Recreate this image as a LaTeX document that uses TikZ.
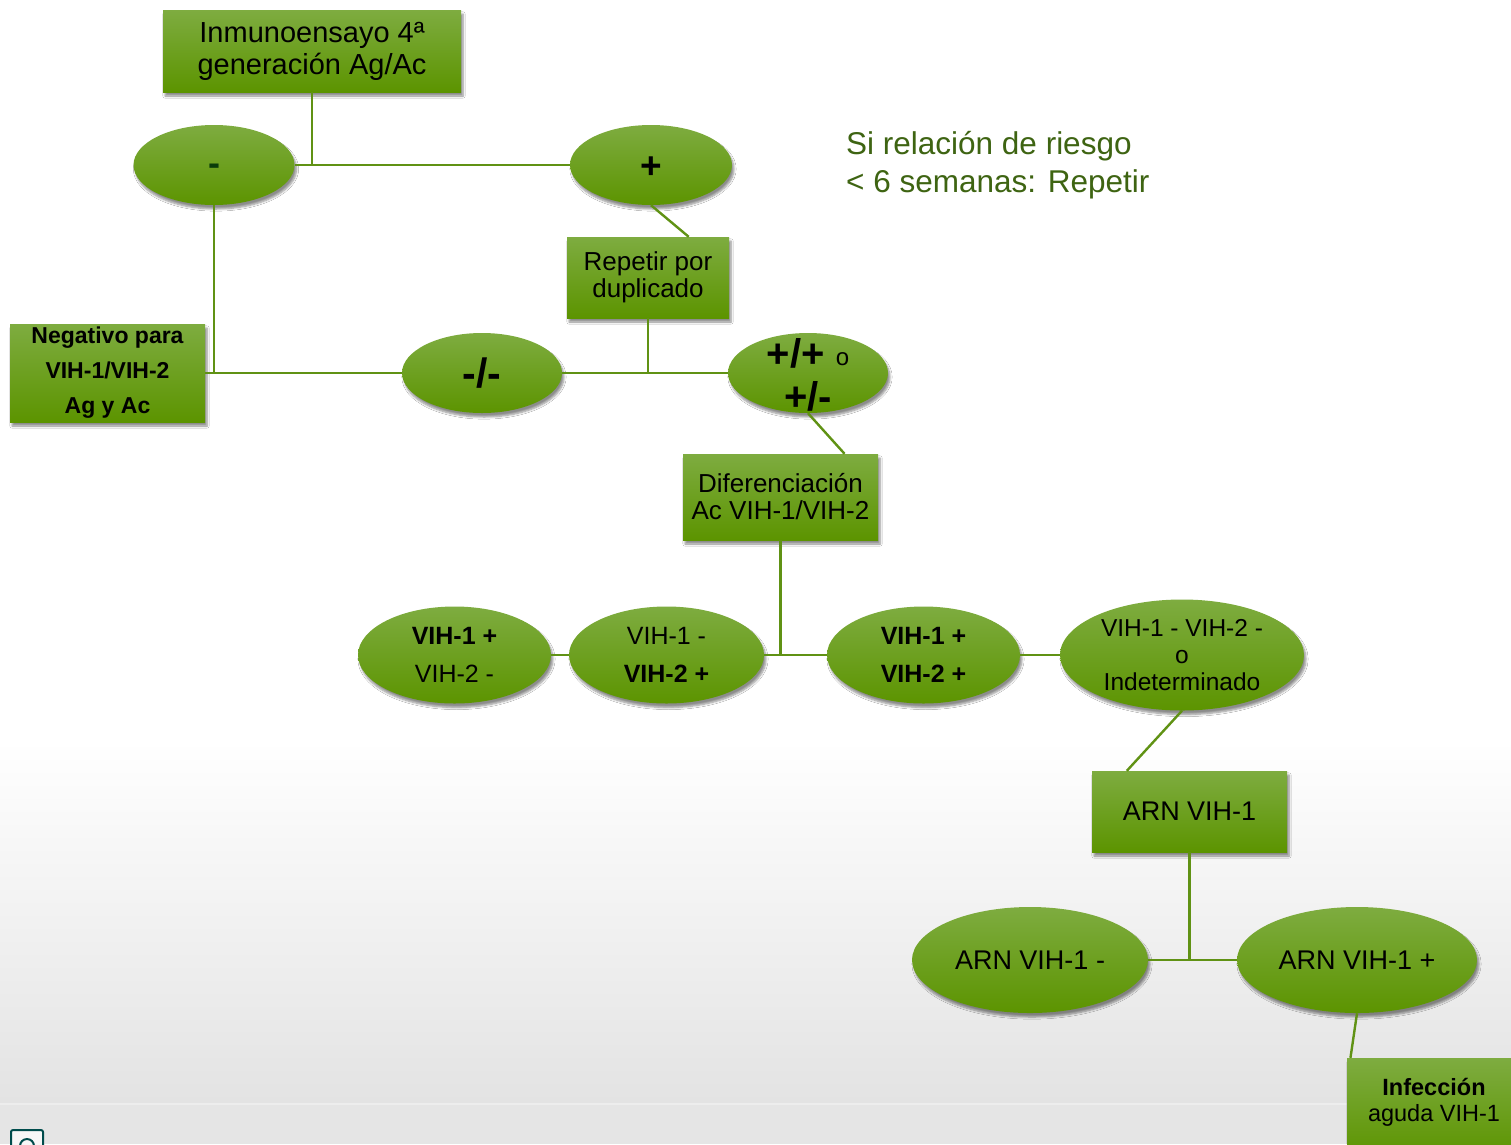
\documentclass[tikz,border=0pt]{standalone}
\usepackage{fontspec}
\setmainfont{Liberation Sans}
\usetikzlibrary{shapes.geometric,shadows.blur}
\definecolor{gtop}{RGB}{126,172,64}
\definecolor{gmid}{RGB}{104,160,10}
\definecolor{gbot}{RGB}{92,148,0}
\definecolor{lnkc}{RGB}{96,146,20}
\definecolor{riesgo}{RGB}{62,100,18}
\definecolor{guion}{RGB}{10,60,10}

\begin{document}
\begin{tikzpicture}[x=1pt, y=-1pt,
    shad/.style={blur shadow={shadow blur steps=6, shadow xshift=2pt, shadow yshift=-4pt, shadow opacity=45}},
    caja/.style={rectangle, shad, top color=gtop, middle color=gmid, bottom color=gbot, inner sep=0pt, align=center, text=black},
    elip/.style={ellipse, shad, top color=gtop, middle color=gmid, bottom color=gbot, inner sep=0pt, align=center, text=black},
    lnk/.style={draw=lnkc, line width=2.4pt}]
      \useasboundingbox (0,0) rectangle (1511,1144);
      \clip (0,0) rectangle (1511,1144);
      \fill[white] (0,0) rectangle (1511,1144);
      \shade[top color=white, bottom color=black!11] (0,740) rectangle (1511,1104);
      \fill[black!10] (0,1104) rectangle (1511,1144);
      \draw[black!7, line width=2pt] (0,1104) -- (1511,1104);
      \draw[teal!60!black, fill=black!3, line width=2pt, rounded corners=2pt] (11,1130) rectangle (43,1152);
      \draw[teal!60!black, line width=2pt] (27,1146) circle (7);

      \node[caja, minimum width=298pt, minimum height=82pt, font=\fontsize{29}{32}\selectfont] (inmuno) at (312,51) {Inmunoensayo 4ª\\generación Ag/Ac};
      \node[elip, minimum width=161pt, minimum height=80pt, font=\fontsize{36}{36}\selectfont\bfseries, text=guion] (menos) at (214,165) {\smash{\raisebox{-10pt}{-}}};
      \node[elip, minimum width=162pt, minimum height=80pt, font=\fontsize{37}{37}\selectfont\bfseries] (mas) at (651,165) {\smash{\raisebox{-13pt}{+}}};
      \node[anchor=west, inner sep=0pt, align=left, text=riesgo, font=\fontsize{31.5}{38}\selectfont] (nota) at (846,165) {Si relación de riesgo\\< 6 semanas: Repetir};
      \node[caja, minimum width=162pt, minimum height=81pt, font=\fontsize{26}{27}\selectfont] (repetir) at (648,277.5) {Repetir por\\duplicado};
      \node[caja, minimum width=195pt, minimum height=98pt, font=\fontsize{23}{35}\selectfont\bfseries] (negativo) at (107.5,373) {Negativo para\\VIH-1/VIH-2\\Ag y Ac};
      \node[elip, minimum width=160pt, minimum height=80pt, font=\fontsize{41}{41}\selectfont\bfseries] (negdos) at (482,373) {-/-};
      \node[elip, minimum width=160pt, minimum height=80pt] (ppos) at (808,373) {};
      \node[align=center, inner sep=0pt, font=\fontsize{40}{43}\selectfont\bfseries] (ppostxt) at (808,375) {+/+ {\mdseries\fontsize{24}{24}\selectfont\raisebox{2pt}{o}}\\+/-};
      \node[caja, minimum width=195pt, minimum height=86pt, font=\fontsize{26}{27}\selectfont] (dif) at (780.5,497) {Diferenciación\\Ac VIH-1/VIH-2};
      \node[elip, minimum width=193pt, minimum height=97pt, font=\fontsize{25}{38}\selectfont] (va1) at (454.5,655) {\textbf{VIH-1 +}\\VIH-2 -};
      \node[elip, minimum width=195pt, minimum height=97pt, font=\fontsize{25}{38}\selectfont] (va2) at (666.5,655) {VIH-1 -\\\textbf{VIH-2 +}};
      \node[elip, minimum width=193pt, minimum height=97pt, font=\fontsize{25}{38}\selectfont\bfseries] (vb) at (923.5,655) {VIH-1 +\\VIH-2 +};
      \node[elip, minimum width=244pt, minimum height=111pt, font=\fontsize{24.5}{27}\selectfont] (vc) at (1182,655) {VIH-1 - VIH-2 -\\o\\Indeterminado};
      \node[caja, minimum width=195pt, minimum height=81pt, font=\fontsize{27}{27}\selectfont] (arn) at (1189.5,811.5) {ARN VIH-1};
      \node[elip, minimum width=236pt, minimum height=106pt, font=\fontsize{27}{27}\selectfont] (arnneg) at (1030,960) {ARN VIH-1 -};
      \node[elip, minimum width=240pt, minimum height=106pt, font=\fontsize{27}{27}\selectfont] (arnpos) at (1357,960) {ARN VIH-1 +};
      \node[caja, minimum width=174pt, minimum height=100pt, text depth=0pt] (inf) at (1434,1108) {};
      \node[align=center, font=\fontsize{23.5}{26}\selectfont] (inftxt) at (1434,1102) {\textbf{Infección}\\aguda VIH-1};

      \draw[lnk] (inmuno.south) -- (inmuno.south |- menos.east);
      \draw[lnk] (menos.east) -- (mas.west);
      \draw[lnk] (mas.south) -- (repetir.45);
      \draw[lnk] (menos.south) |- (negativo.east);
      \draw[lnk] (negativo.east) -- (negdos.west);
      \draw[lnk] (repetir.south) -- (repetir.south |- ppos.west);
      \draw[lnk] (negdos.east) -- (ppos.west);
      \draw[lnk] (ppos.south) -- (dif.34);
      \draw[lnk] (dif.south) -- (dif.south |- vb.west);
      \draw[lnk] (va1.east) -- (va2.west);
      \draw[lnk] (va2.east) -- (vb.west);
      \draw[lnk] (vb.east) -- (vc.west);
      \draw[lnk] (vc.south) -- (arn.147);
      \draw[lnk] (arn.south) -- (arn.south |- arnneg.east);
      \draw[lnk] (arnneg.east) -- (arnpos.west);
      \draw[lnk] (arnpos.south) -- (inf.149);
    \end{tikzpicture}
\end{document}
